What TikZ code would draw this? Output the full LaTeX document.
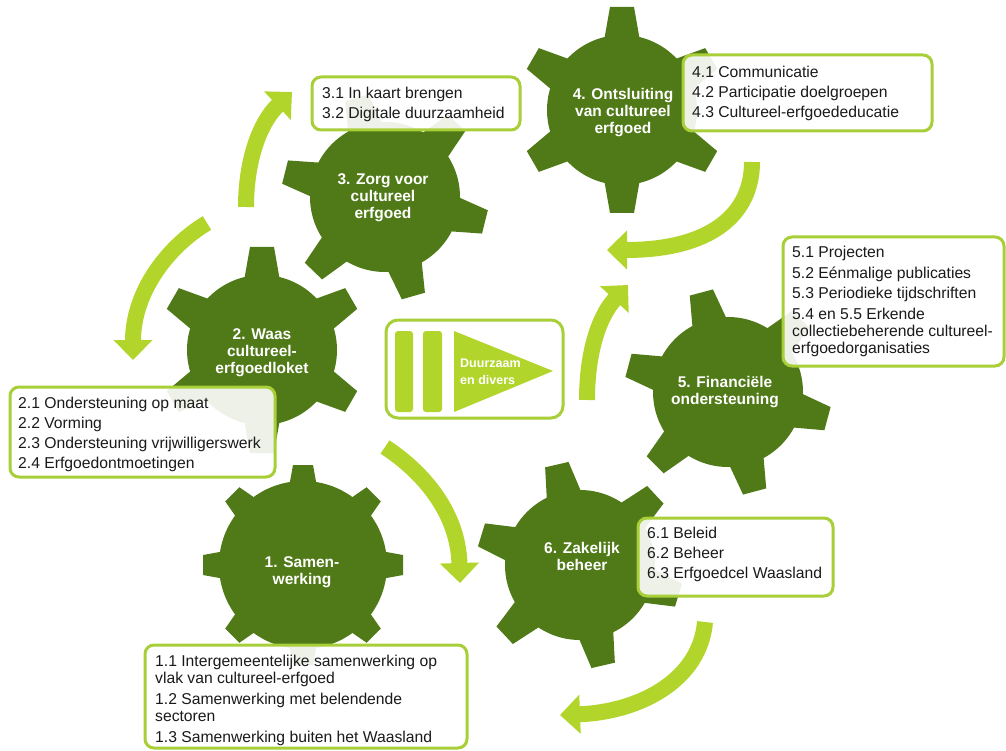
\documentclass[tikz,border=0pt]{standalone}
\usepackage{fontspec}
\setmainfont{Liberation Sans}
\usetikzlibrary{arrows.meta}
\definecolor{gearg}{HTML}{4F7A17}
\definecolor{limea}{HTML}{B2D52B}
\definecolor{limeb}{HTML}{A8CE38}
\definecolor{txt}{HTML}{1A1A1A}
\newcommand{\drawgear}[8]{%
  \begin{scope}[shift={(#1,#2)}]
    \fill[gearg] (0,0) circle[radius=#5];
    \pgfmathsetmacro\gstep{360/#3}
    \foreach \k in {1,...,#3}{%
      \begin{scope}[rotate={#4+\k*\gstep}]
        \fill[gearg] ({#5-6},{-#8/2}) -- (#6,{-#7/2}) -- (#6,{#7/2}) -- ({#5-6},{#8/2}) -- cycle;
      \end{scope}
    }
  \end{scope}}
\tikzset{
  boxframe/.style={draw=limeb, line width=3pt, rounded corners=9pt, fill=white, fill opacity=0.9, inner sep=0pt, outer sep=0pt, anchor=north west},
  itemtext/.style={align=left, inner sep=0pt, text=txt, anchor=base west, font=\fontsize{15.7}{17}\selectfont},
  geartext/.style={align=center, inner sep=0pt, text=white, font=\bfseries\fontsize{15.5}{17}\selectfont},
  arr/.style={draw=limea, line width=16pt, -{Triangle[width=38pt,length=20pt]}},
}
\begin{document}
\begin{tikzpicture}[x=1pt,y=-1pt]
\useasboundingbox (0,0) rectangle (1006,751);
% gears
\drawgear{303}{565}{8}{0}{84}{100}{20}{28}
\drawgear{262}{350}{6}{30}{75}{103}{24}{36}
\drawgear{385}{197}{6}{46}{75}{103}{24}{36}
\drawgear{622}{110}{6}{30}{75}{103}{24}{36}
\drawgear{728}{392}{6}{45}{75}{103}{24}{36}
\drawgear{580}{565}{6}{43}{75}{103}{24}{36}
% gear labels
\node[geartext] (g1) at (302,572) {1. Samen-\\werking};
\node[geartext] (g2) at (262,353) {2. Waas\\cultureel-\\erfgoedloket};
\node[geartext] (g3) at (383,198) {3. Zorg voor\\cultureel\\erfgoed};
\node[geartext] (g4) at (623,113) {4. Ontsluiting\\van cultureel\\erfgoed};
\node[geartext] (g5) at (725,392) {5. Financiële\\ondersteuning};
\node[geartext] (g6) at (582,556) {6. Zakelijk\\beheer};
% arrows
\coordinate (a1s) at (246,207); \coordinate (a1e) at (292,92);
\draw[arr] (a1s) .. controls (246,160) and (260,122) .. (a1e);
\coordinate (a2s) at (207,223); \coordinate (a2e) at (133,360);
\draw[arr] (a2s) .. controls (170,245) and (133,290) .. (a2e);
\coordinate (a3s) at (752,162); \coordinate (a3e) at (607,250);
\draw[arr] (a3s) .. controls (752,215) and (710,250) .. (a3e);
\coordinate (a4s) at (587,400); \coordinate (a4e) at (628,285);
\draw[arr] (a4s) .. controls (587,350) and (600,315) .. (a4e);
\coordinate (a5s) at (385,447); \coordinate (a5e) at (460,583);
\draw[arr] (a5s) .. controls (420,470) and (458,510) .. (a5e);
\coordinate (a6s) at (705,622); \coordinate (a6e) at (560,715);
\draw[arr] (a6s) .. controls (700,680) and (640,712) .. (a6e);
% boxes (text anchored at the baseline of its last line)
\node[boxframe, minimum width=208pt, minimum height=53pt] (b3) at (312,77) {};
\node[itemtext] (t3) at (322,118.5) {3.1 In kaart brengen\\[3pt]3.2 Digitale duurzaamheid};
\node[boxframe, minimum width=249pt, minimum height=76pt] (b4) at (683,55) {};
\node[itemtext] (t4) at (692,117.5) {4.1 Communicatie\\[3pt]4.2 Participatie doelgroepen\\[3pt]4.3 Cultureel-erfgoededucatie};
\node[boxframe, minimum width=221pt, minimum height=129pt] (b5) at (783,237) {};
\node[itemtext] (t5) at (792,353) {5.1 Projecten\\[3.5pt]5.2 Eénmalige publicaties\\[3.5pt]5.3 Periodieke tijdschriften\\[3.5pt]5.4 en 5.5 Erkende\\collectiebeherende cultureel-\\erfgoedorganisaties};
\node[boxframe, minimum width=265pt, minimum height=90pt] (b2) at (10,387) {};
\node[itemtext] (t2) at (18,468.5) {2.1 Ondersteuning op maat\\[3pt]2.2 Vorming\\[3pt]2.3 Ondersteuning vrijwilligerswerk\\[3pt]2.4 Erfgoedontmoetingen};
\node[boxframe, minimum width=322pt, minimum height=103pt] (b1) at (145,645) {};
\node[itemtext] (t1) at (155,742.5) {1.1 Intergemeentelijke samenwerking op\\vlak van cultureel-erfgoed\\[4pt]1.2 Samenwerking met belendende\\sectoren\\[4pt]1.3 Samenwerking buiten het Waasland};
\node[boxframe, minimum width=195pt, minimum height=78pt] (b6) at (638,518) {};
\node[itemtext] (t6) at (647,578.5) {6.1 Beleid\\[3pt]6.2 Beheer\\[3pt]6.3 Erfgoedcel Waasland};
% centre box
\node[boxframe, fill opacity=1, rounded corners=12pt, minimum width=177pt, minimum height=98pt] (c0) at (386,320) {};
\fill[limea, rounded corners=3pt] (395,331) rectangle (413,412);
\fill[limea, rounded corners=3pt] (423,331) rectangle (442,412);
\fill[limea] (454,331) -- (553,371) -- (454,412) -- cycle;
\node[align=left, inner sep=0pt, text=white, anchor=base west, font=\bfseries\fontsize{12.5}{17}\selectfont] (c1) at (460,384.5) {Duurzaam\\en divers};
\end{tikzpicture}
\end{document}
